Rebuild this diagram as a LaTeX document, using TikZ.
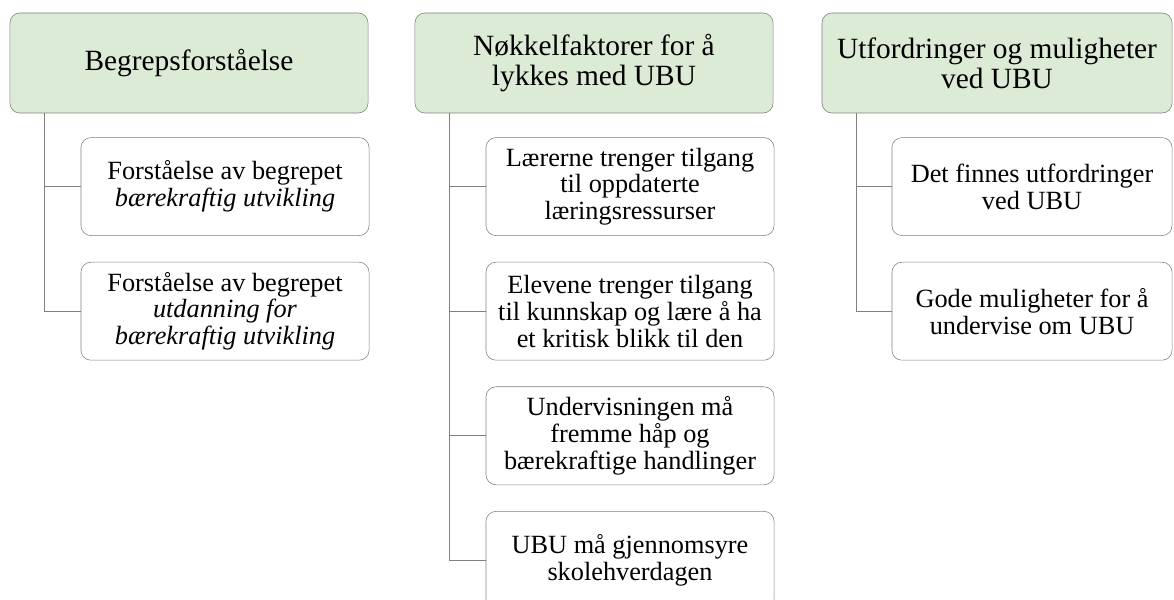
\documentclass[tikz,border=0pt]{standalone}
\usepackage{fontspec}
\setmainfont{Liberation Serif}
\usetikzlibrary{positioning}
\definecolor{headgreen}{HTML}{DCEBD5}
\definecolor{linegray}{HTML}{808080}

\begin{document}
\begin{tikzpicture}[
  x=0.025cm, y=0.025cm,
  node distance=0.65cm,
  head/.style={draw=linegray, fill=headgreen, rounded corners=0.25cm,
               minimum width=8.95cm, minimum height=2.5cm, align=center,
               font=\fontsize{20.9}{21.5}\selectfont},
  item/.style={draw=linegray, rounded corners=0.25cm, minimum width=7.2cm,
               minimum height=2.45cm, align=center,
               font=\fontsize{18.7}{19.1}\selectfont},
  link/.style={draw=linegray, line width=0.6pt}
]
  \useasboundingbox (0,0) rectangle (1174,-599);
  \clip (0,0) rectangle (1174,-599);

  % column headers
  \node[head] (h1) at (189,-63) {Begrepsforståelse};
  \node[head] (h2) at (594,-63) {Nøkkelfaktorer for å\\lykkes med UBU};
  \node[head, minimum width=8.75cm] (h3) at (997,-63) {Utfordringer og muligheter\\ved UBU};

  % column 1
  \node[item, below=0.6cm of h1.south, xshift=0.9cm] (a1)
    {Forståelse av begrepet\\\textit{bærekraftig utvikling}};
  \node[item, below=of a1] (a2)
    {Forståelse av begrepet\\\textit{utdanning for}\\\textit{bærekraftig utvikling}};

  % column 2
  \node[item, below=0.6cm of h2.south, xshift=0.9cm] (b1)
    {Lærerne trenger tilgang\\til oppdaterte\\læringsressurser};
  \node[item, below=of b1] (b2)
    {Elevene trenger tilgang\\til kunnskap og lære å ha\\et kritisk blikk til den};
  \node[item, below=of b2] (b3)
    {Undervisningen må\\fremme håp og\\bærekraftige handlinger};
  \node[item, below=of b3] (b4)
    {UBU må gjennomsyre\\skolehverdagen};

  % column 3
  \node[item, minimum width=7cm, below=0.6cm of h3.south, xshift=0.875cm] (c1)
    {Det finnes utfordringer\\ved UBU};
  \node[item, minimum width=7cm, below=of c1] (c2)
    {Gode muligheter for å\\undervise om UBU};

  \foreach \h/\c in {h1/a1, h1/a2, h2/b1, h2/b2, h2/b3, h2/b4, h3/c1, h3/c2}
    \draw[link] ([xshift=0.875cm]\h.south west) |- (\c.west);
\end{tikzpicture}
\end{document}
